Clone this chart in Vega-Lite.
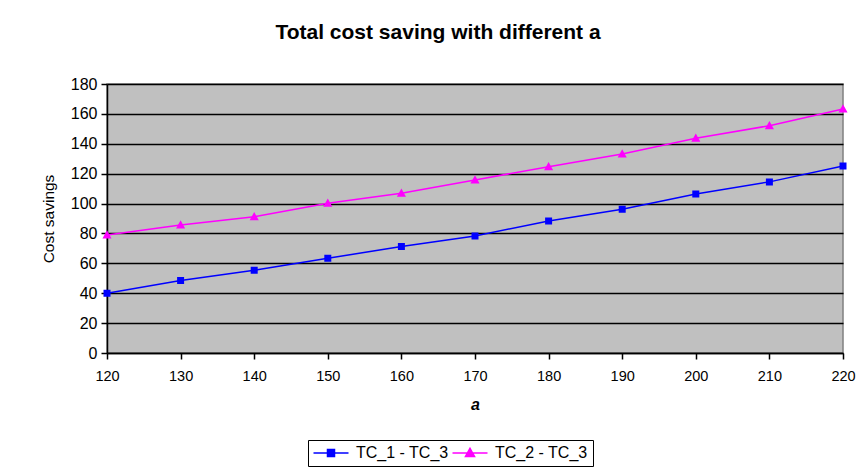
{
  "$schema": "https://vega.github.io/schema/vega-lite/v6.json",
  "width": 736,
  "height": 269,
  "autosize": {"type": "none"},
  "padding": {"left": 107, "top": 84, "right": 14, "bottom": 121},
  "background": "white",
  "title": {
    "text": "Total cost saving with different a",
    "font": "Liberation Sans",
    "fontSize": 21,
    "fontWeight": "bold",
    "color": "black",
    "anchor": "middle",
    "dx": -37,
    "offset": 33
  },
  "data": {
    "values": [
      {"a": 120, "series": "TC_1 - TC_3", "saving": 40.0},
      {"a": 130, "series": "TC_1 - TC_3", "saving": 48.5},
      {"a": 140, "series": "TC_1 - TC_3", "saving": 55.3},
      {"a": 150, "series": "TC_1 - TC_3", "saving": 63.4},
      {"a": 160, "series": "TC_1 - TC_3", "saving": 71.2},
      {"a": 170, "series": "TC_1 - TC_3", "saving": 78.3},
      {"a": 180, "series": "TC_1 - TC_3", "saving": 88.4},
      {"a": 190, "series": "TC_1 - TC_3", "saving": 96.2},
      {"a": 200, "series": "TC_1 - TC_3", "saving": 106.4},
      {"a": 210, "series": "TC_1 - TC_3", "saving": 114.5},
      {"a": 220, "series": "TC_1 - TC_3", "saving": 125.2},
      {"a": 120, "series": "TC_2 - TC_3", "saving": 79.0},
      {"a": 130, "series": "TC_2 - TC_3", "saving": 85.7},
      {"a": 140, "series": "TC_2 - TC_3", "saving": 91.2},
      {"a": 150, "series": "TC_2 - TC_3", "saving": 100.2},
      {"a": 160, "series": "TC_2 - TC_3", "saving": 106.9},
      {"a": 170, "series": "TC_2 - TC_3", "saving": 115.8},
      {"a": 180, "series": "TC_2 - TC_3", "saving": 124.7},
      {"a": 190, "series": "TC_2 - TC_3", "saving": 133.2},
      {"a": 200, "series": "TC_2 - TC_3", "saving": 143.7},
      {"a": 210, "series": "TC_2 - TC_3", "saving": 152.1},
      {"a": 220, "series": "TC_2 - TC_3", "saving": 163.3}
    ]
  },
  "encoding": {
    "x": {
      "field": "a",
      "type": "quantitative",
      "scale": {"domain": [120, 220], "nice": false, "zero": false},
      "axis": {
        "title": "a",
        "values": [120, 130, 140, 150, 160, 170, 180, 190, 200, 210, 220],
        "grid": false,
        "labelFlush": false,
        "labelOverlap": false,
        "labelFontSize": 14.5,
        "labelPadding": 10,
        "titleFontSize": 16,
        "titleFontWeight": "bold",
        "titleFontStyle": "italic",
        "titlePadding": 14
      }
    },
    "y": {
      "field": "saving",
      "type": "quantitative",
      "scale": {"domain": [0, 180], "nice": false},
      "axis": {
        "title": "Cost savings",
        "values": [0, 20, 40, 60, 80, 100, 120, 140, 160, 180],
        "grid": true,
        "labelOverlap": false,
        "labelBound": false,
        "labelFontSize": 16,
        "labelPadding": 4,
        "titleFontSize": 15.5,
        "titleFontWeight": "normal",
        "titlePadding": 14
      }
    },
    "color": {
      "field": "series",
      "type": "nominal",
      "scale": {"domain": ["TC_1 - TC_3", "TC_2 - TC_3"], "range": ["#0000FF", "#FF00FF"]}
    }
  },
  "layer": [
    {
      "mark": {"type": "line", "strokeWidth": 1.5},
      "encoding": {}
    },
    {
      "mark": {"type": "point", "filled": true, "size": 49, "opacity": 1, "strokeWidth": 0},
      "encoding": {
        "shape": {
          "field": "series",
          "type": "nominal",
          "scale": {
            "domain": ["TC_1 - TC_3", "TC_2 - TC_3"],
            "range": ["M-5,0H5M-1,-1H1V1H-1Z", "M-5,0H5M0,-1.35L1.3,1L-1.3,1Z"]
          },
          "legend": {
            "orient": "none",
            "legendX": 201,
            "legendY": 356,
            "direction": "horizontal",
            "title": null,
            "labelFont": "Liberation Sans",
            "labelFontSize": 16,
            "labelColor": "black",
            "symbolSize": 49,
            "symbolOffset": 10,
            "labelOffset": 17,
            "columnPadding": 0,
            "padding": 5,
            "strokeColor": "black",
            "fillColor": "white",
            "encode": {
              "legend": {"update": {"strokeWidth": {"value": 1.5}}},
              "symbols": {
                "update": {
                  "stroke": {"scale": "color", "field": "value"},
                  "fill": {"scale": "color", "field": "value"},
                  "strokeWidth": {"value": 1.5},
                  "opacity": {"value": 1}
                }
              }
            }
          }
        }
      }
    }
  ],
  "config": {
    "view": {"fill": "#C0C0C0", "stroke": "#808080", "strokeWidth": 1.5},
    "axis": {
      "labelFont": "Liberation Sans",
      "labelFontSize": 14,
      "labelColor": "black",
      "titleFont": "Liberation Sans",
      "titleColor": "black",
      "domainColor": "black",
      "domainWidth": 1.5,
      "tickColor": "black",
      "tickWidth": 1.5,
      "tickSize": 6,
      "gridColor": "black",
      "gridWidth": 1.5,
      "gridOpacity": 1
    }
  }
}
